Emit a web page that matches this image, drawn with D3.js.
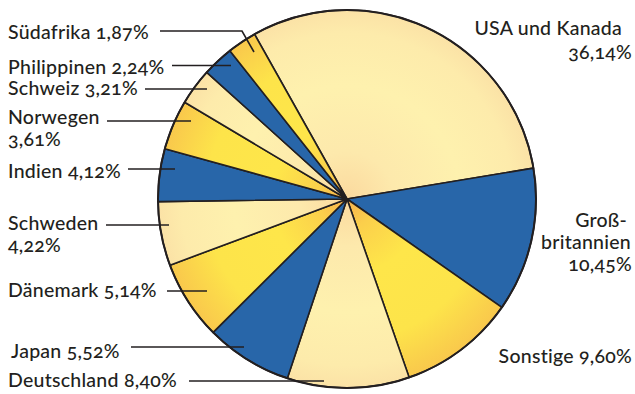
<!DOCTYPE html>
<html><head><meta charset="utf-8">
<script src="https://cdn.jsdelivr.net/npm/d3@7"></script>
<style>
html,body{margin:0;padding:0;background:#fff;}
text{font-family:Lato,"Open Sans",sans-serif;font-size:19.5px;font-weight:500;letter-spacing:0.25px;fill:#231f20;font-variant-numeric:oldstyle-nums;font-feature-settings:"onum" 1;}
</style></head>
<body><svg id="chart" width="635" height="394"></svg>
<script>
// ---- data ----
const countries = ["USA und Kanada","Großbritannien","Sonstige","Deutschland","Japan","Dänemark","Schweden","Indien","Norwegen","Schweiz","Philippinen","Südafrika"];
const percentages = [36.14,10.45,9.60,8.40,5.52,5.14,4.22,4.12,3.61,3.21,2.24,1.87];
// visible share of each slice as drawn in the picture (degrees of the circle)
const sliceShares = [109.9,44.4,35.8,37.6,26.7,24.4,19.7,16.2,15.4,11.3,9.6,9.0];
const colorGroups = ["light","blue","yellow","light","blue","yellow","light","blue","yellow","light","blue","yellow"];

// ---- layout ----
const cx = 347, cy = 199, R = 189;
const startDeg = -29.3;
const labelLayout = [
  {lines:["USA und Kanada","{p}"], xs:[622,632], ys:[35,59], anchor:"end"},
  {lines:["Groß-","britannien","{p}"], xs:[627,631,632], ys:[227,249,271], anchor:"end"},
  {lines:["Sonstige {p}"], xs:[632], ys:[363], anchor:"end"},
  {lines:["Deutschland {p}"], xs:[8], ys:[387], anchor:"start", leader:[[189,381],[324,381]]},
  {lines:["Japan {p}"], xs:[11], ys:[358], anchor:"start", leader:[[131,347],[244,347]]},
  {lines:["Dänemark {p}"], xs:[8], ys:[297], anchor:"start", leader:[[167,291],[207,291]]},
  {lines:["Schweden","{p}"], xs:[8,8], ys:[230,252], anchor:"start", leader:[[106,225],[169,225]]},
  {lines:["Indien {p}"], xs:[8], ys:[178], anchor:"start", leader:[[128,169],[175,169]]},
  {lines:["Norwegen","{p}"], xs:[8,8], ys:[124,146], anchor:"start", leader:[[107,121],[191,121]]},
  {lines:["Schweiz {p}"], xs:[8], ys:[95], anchor:"start", leader:[[145,89],[207,89]]},
  {lines:["Philippinen {p}"], xs:[8], ys:[74], anchor:"start", leader:[[172,65.5],[231,65.5]]},
  {lines:["Südafrika {p}"], xs:[8], ys:[39], anchor:"start", leader:[[160,31],[242,31],[254,52]]}
];

const fmt = v => d3.format(".2f")(v).replace(".", ",");

const svg = d3.select("#chart");
const defs = svg.append("defs");
function radial(id, stops){
  const g = defs.append("radialGradient").attr("id", id)
    .attr("gradientUnits","userSpaceOnUse").attr("cx",0).attr("cy",0).attr("r",R);
  stops.forEach(s => g.append("stop").attr("offset", s[0]).attr("stop-color", s[1]));
}
radial("gYellow", [["0%","#f7b04e"],["15%","#fbcf4b"],["40%","#fee64a"],["75%","#fde44a"],["100%","#f9c84c"]]);
radial("gLight", [["0%","#fbd99e"],["25%","#fde9ac"],["60%","#fef1ae"],["88%","#fdebab"],["100%","#fbe2a6"]]);
const fills = {blue:"#2866a9", yellow:"url(#gYellow)", light:"url(#gLight)"};

const pie = d3.pie().sort(null).value(d => d.share)
  .startAngle(startDeg*Math.PI/180).endAngle((startDeg+360)*Math.PI/180);
const arc = d3.arc().innerRadius(0).outerRadius(R);
const data = countries.map((c,i) => ({name:c, pct:percentages[i], share:sliceShares[i], group:colorGroups[i]}));

const g = svg.append("g").attr("transform", `translate(${cx},${cy})`);
g.selectAll("path.slice").data(pie(data)).join("path")
  .attr("class","slice")
  .attr("d", arc)
  .attr("fill", d => fills[d.data.group])
  .attr("stroke", "#231f20").attr("stroke-width", 1.6).attr("stroke-linejoin","round");
g.append("circle").attr("r", R).attr("fill","none").attr("stroke","#231f20").attr("stroke-width",2);

// labels and leaders
const lg = svg.append("g");
labelLayout.forEach((L, i) => {
  const d = data[i];
  L.lines.forEach((ln, j) => {
    lg.append("text").attr("x", L.xs[j]).attr("y", L.ys[j])
      .attr("text-anchor", L.anchor)
      .text(ln.replace("{p}", fmt(d.pct) + "%"));
  });
  if (L.leader) {
    lg.append("path").attr("d", d3.line()(L.leader))
      .attr("fill","none").attr("stroke","#231f20").attr("stroke-width",1.6);
  }
});
</script></body></html>
